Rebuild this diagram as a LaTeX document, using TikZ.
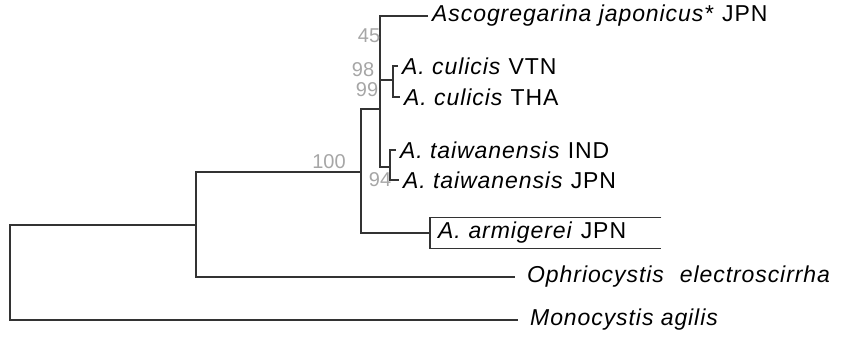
\documentclass[tikz,border=0pt]{standalone}
\usepackage{fontspec}
\setmainfont{Liberation Sans}
\newfontfamily\leaffont[LetterSpace=4]{Liberation Sans}

\begin{document}
\begin{tikzpicture}[x=1pt,y=-1pt,leaf/.style={anchor=west,inner xsep=4pt,inner ysep=0pt,font=\leaffont\fontsize{23}{25}\selectfont},farleaf/.style={leaf,inner xsep=12pt},boot/.style={text=black!35,inner sep=0pt,font=\fontsize{20}{22}\selectfont},branch/.style={line width=2.8pt,draw=black!80}]
\useasboundingbox (0,0) rectangle (862,344);
\node[leaf] (l0) at (428,16) {\textit{Ascogregarina japonicus*} JPN};
\node[leaf] (l1) at (398,66) {\textit{A. culicis} VTN};
\node[leaf] (l2) at (400,97) {\textit{A. culicis} THA};
\node[leaf] (l3) at (396,150) {\textit{A. taiwanensis} IND};
\node[leaf] (l4) at (399,180) {\textit{A. taiwanensis} JPN};
\node[leaf,text width=215pt,minimum height=31pt,inner xsep=8pt] (l5) at (430,233) {\textit{A. armigerei} JPN};
\node[farleaf] (l6) at (515,277) {\textit{Ophriocystis\hspace{0.7em}electroscirrha}};
\node[farleaf] (l7) at (518,320) {\textit{Monocystis agilis}};
\coordinate (i0) at (393,80);
\coordinate (i1) at (390,167);
\coordinate (i2) at (380,109);
\coordinate (i3) at (361,172);
\coordinate (i4) at (196,225);
\coordinate (i5) at (10,272);
\draw[branch] (l1.west) -| (i0) |- (l2.west);
\draw[branch] (l3.west) -| (i1) |- (l4.west);
\draw[branch] (l0.west) -| (i2) |- (i1);
\draw[branch] (i2) |- (i0);
\draw[branch] (i2) -| (i3) |- (l5.west);
\draw[branch] (i3) -| (i4) |- (l6.west);
\draw[branch] (i4) -| (i5) |- (l7.west);
\draw[line width=1.4pt,draw=black!80] (l5.north east) -- (l5.north west) -- (l5.south west) -- (l5.south east);
\node[boot] (b0) at (369,36) {45};
\node[boot] (b1) at (363,70) {98};
\node[boot] (b2) at (367,90) {99};
\node[boot] (b3) at (380,180) {94};
\node[boot] (b4) at (329,162) {100};
\end{tikzpicture}
\end{document}
